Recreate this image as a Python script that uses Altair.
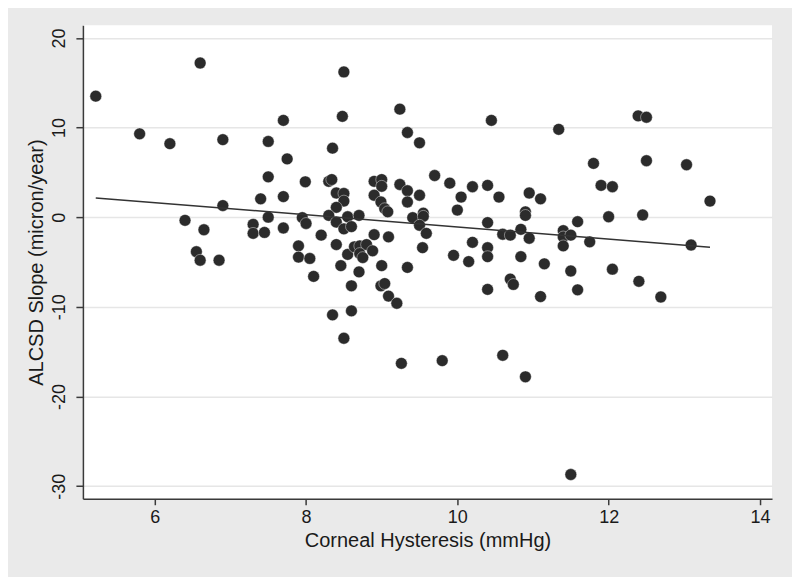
import altair as alt
import pandas as pd

# Corneal hysteresis (mmHg)
ch = [5.22, 5.80, 6.20, 6.60, 6.90, 6.90, 6.40, 6.65, 6.55, 6.60,
      6.85, 7.30, 7.30, 7.40, 7.70, 7.50, 7.75, 7.50, 7.70, 7.50,
      7.45, 7.70, 7.95, 8.00, 7.99, 7.90, 7.90, 8.05, 8.10, 8.20,
      8.35, 8.30, 8.34, 8.40, 8.50, 8.50, 8.40, 8.30, 8.40, 8.48,
      8.50, 8.40, 8.46, 8.55, 8.55, 8.50, 8.60, 8.70, 8.64, 8.71,
      8.80, 8.71, 8.75, 8.88, 8.90, 8.70, 8.60, 8.35, 8.60, 8.50,
      9.00, 8.99, 9.04, 9.09, 9.20, 9.26, 9.09, 8.90, 9.00, 9.00,
      8.90, 8.99, 9.04, 9.08, 9.24, 9.34, 9.34, 9.24, 9.34, 9.50,
      9.50, 9.41, 9.55, 9.55, 9.50, 9.59, 9.54, 9.34, 9.80, 9.70,
      9.90, 10.05, 10.00, 10.20, 10.40, 10.55, 10.45, 10.40, 10.20, 10.40,
      10.40, 9.95, 10.15, 10.40, 10.60, 10.70, 10.84, 10.95, 10.90, 10.90,
      10.95, 11.10, 10.84, 10.70, 10.74, 11.10, 11.15, 10.60, 10.90, 11.34,
      11.40, 11.40, 11.50, 11.40, 11.59, 11.50, 11.59, 11.50, 11.75, 11.80,
      11.90, 12.05, 12.00, 12.05, 12.39, 12.50, 12.50, 12.45, 12.40, 12.69,
      13.03, 13.09, 13.34]

# ALCSD slope (micron/year)
slope = [13.5, 9.3, 8.2, 17.2, 8.65, 1.3, -0.35, -1.4, -3.85, -4.8,
         -4.8, -0.8, -1.8, 2.05, 10.8, 8.45, 6.5, 4.5, 2.3, 0.0,
         -1.7, -1.2, -0.05, -0.7, 3.95, -3.2, -4.45, -4.6, -6.6, -2.0,
         7.7, 4.0, 4.2, 2.7, 2.65, 1.8, 1.1, 0.2, -0.55, 11.25,
         16.2, -3.05, -5.4, -4.15, 0.05, -1.3, -1.05, 0.2, -3.3, -3.2,
         -3.05, -4.05, -4.5, -3.75, -1.95, -6.1, -7.65, -10.9, -10.45, -13.5,
         -5.4, -7.65, -7.4, -8.8, -9.6, -16.3, -2.2, 4.0, 4.2, 3.45,
         2.45, 1.7, 0.95, 0.6, 3.65, 2.95, 1.7, 12.05, 9.45, 8.3,
         2.45, -0.05, 0.45, 0.1, -0.9, -1.8, -3.4, -5.6, -16.0, 4.65,
         3.8, 2.25, 0.8, 3.4, 3.55, 2.25, 10.8, -0.6, -2.8, -3.4,
         -4.4, -4.25, -4.95, -8.05, -1.9, -2.0, -1.35, -2.35, 0.6, 0.2,
         2.7, 2.05, -4.4, -6.9, -7.5, -8.85, -5.2, -15.4, -17.8, 9.8,
         -1.5, -2.2, -2.0, -3.2, -0.5, -6.0, -8.1, -28.7, -2.75, 6.0,
         3.55, 3.4, 0.05, -5.8, 11.3, 11.15, 6.3, 0.25, -7.15, -8.9,
         5.85, -3.1, 1.8]

# fitted line end points
fit_x = [5.22, 13.34]
fit_y = [2.15, -3.34]

x_ticks = [6, 8, 10, 12, 14]
y_ticks = [-30, -20, -10, 0, 10, 20]

pts = pd.DataFrame({"ch": ch, "slope": slope})
fit = pd.DataFrame({"ch": fit_x, "slope": fit_y})

FONT = "Liberation Sans"
AX = "#3a3a3a"

xs = alt.Scale(domain=[5.05, 14.16], nice=False, zero=False)
ys = alt.Scale(domain=[-31.4, 21.4], nice=False, zero=False)

x_axis = alt.Axis(values=x_ticks, grid=False, title="Corneal Hysteresis (mmHg)",
                  labelExpr="'' + datum.value",
                  domainColor=AX, domainWidth=1.5, tickColor=AX, tickWidth=1.5, tickSize=6,
                  labelFont=FONT, labelFontSize=18, labelColor="#1a1a1a", labelPadding=4,
                  titleFont=FONT, titleFontSize=20, titleFontWeight="normal", titleColor="#1a1a1a",
                  titlePadding=4)
y_axis = alt.Axis(values=y_ticks, grid=True, gridColor="#e6e6e6", gridWidth=1.5,
                  title="ALCSD Slope (micron/year)",
                  labelExpr="'' + datum.value",
                  domainColor=AX, domainWidth=1.5, tickColor=AX, tickWidth=1.5, tickSize=7,
                  labelFont=FONT, labelFontSize=18, labelColor="#1a1a1a", labelAngle=-90,
                  labelAlign="center", labelBaseline="alphabetic", labelPadding=11,
                  titleFont=FONT, titleFontSize=20, titleFontWeight="normal", titleColor="#1a1a1a",
                  titlePadding=4)

points = alt.Chart(pts).mark_circle(size=140, color="#2b2b2b", opacity=1,
                                    stroke="#ffffff", strokeWidth=0.6, strokeOpacity=0.7).encode(
    x=alt.X("ch:Q", scale=xs, axis=x_axis),
    y=alt.Y("slope:Q", scale=ys, axis=y_axis),
)

line = alt.Chart(fit).mark_line(color="#333333", strokeWidth=1.5).encode(
    x=alt.X("ch:Q", scale=xs),
    y=alt.Y("slope:Q", scale=ys),
)

chart = alt.layer(points, line).properties(
    width=690, height=474,
    background="#eaeaea",
    padding={"left": 75, "top": 17, "right": 20, "bottom": 78},
    autosize=alt.AutoSizeParams(type="none"),
).configure_view(fill="#ffffff", strokeWidth=0)

chart.save("out.html", embed_options={"renderer": "svg", "actions": False})
